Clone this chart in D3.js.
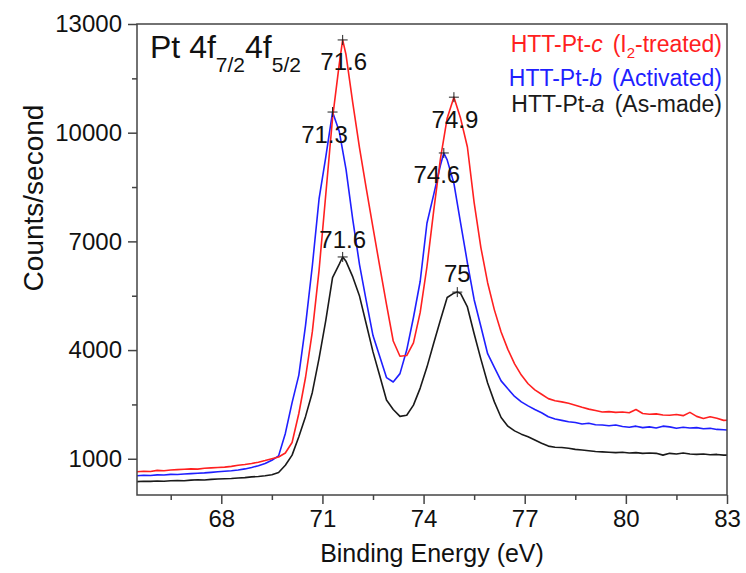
<!DOCTYPE html>
<html>
<head>
<meta charset="utf-8">
<script src="https://cdn.jsdelivr.net/npm/d3@7"></script>
<style>
  body { margin: 0; background: #fff; }
  svg { display: block; font-family: "Liberation Sans", Arial, sans-serif; }
</style>
</head>
<body>
<svg id="chart" width="746" height="573"></svg>
<script>
// binding energy grid (eV), 0.2 eV steps from 65.5
var energy = d3.range(89).map(function(i) { return +(65.5 + i * 0.2).toFixed(1); });

// counts/second
var countsC = [640, 655, 650, 680, 670, 690, 700, 710, 720, 715,
    740, 750, 760, 770, 790, 820, 840, 870, 905, 950,
    1000, 1050, 1160, 1450, 2250, 3250, 4500, 6200, 8300, 10400,
    11900, 12150, 10820, 9580, 8460, 7380, 6310, 5260, 4250, 3830,
    3850, 4200, 5040, 6300, 7840, 9280, 10400, 10980, 10390, 9605,
    8070, 6830, 5860, 5110, 4500, 4020, 3620, 3310, 3070, 2900,
    2780, 2660, 2600, 2570, 2530, 2480, 2420, 2370, 2330, 2290,
    2300, 2280, 2290, 2270, 2360, 2250, 2230, 2240, 2210, 2200,
    2220, 2190, 2280, 2170, 2110, 2160, 2120, 2060, 2070];

var countsB = [530, 545, 540, 555, 550, 570, 565, 580, 590, 600,
    610, 625, 640, 655, 670, 690, 720, 760, 810, 870,
    960, 1080, 1700, 2550, 3310, 4690, 6320, 8170, 9330, 10570,
    10030, 8990, 7600, 6360, 5360, 4400, 3820, 3240, 3120, 3350,
    4000, 4900, 5900, 7500, 8290, 9100, 9250, 8600, 7500, 6410,
    5390, 4650, 3900, 3520, 3150, 2930, 2720, 2570, 2460, 2360,
    2270, 2160, 2100, 2060, 2020, 2000, 1960, 1980, 1940, 1930,
    1910, 1930, 1890, 1870, 1900, 1860, 1880, 1850, 1900, 1880,
    1840, 1870, 1850, 1860, 1830, 1840, 1810, 1800, 1790];

var countsA = [370, 380, 375, 385, 380, 395, 400, 395, 410, 420,
    415, 430, 440, 450, 455, 470, 480, 500, 510, 530,
    560, 620, 820, 1100, 1610, 2170, 2830, 3770, 4820, 6000,
    6370, 6450, 6020, 5490, 4720, 3950, 3290, 2620, 2360, 2170,
    2200, 2480, 2950, 3530, 4190, 4830, 5450, 5570, 5560, 5190,
    4450, 3750, 3090, 2570, 2140, 1900, 1770, 1680, 1610, 1520,
    1430, 1350, 1320, 1310, 1290, 1260, 1240, 1220, 1200, 1190,
    1180, 1170, 1180, 1160, 1170, 1150, 1160, 1150, 1100, 1150,
    1130, 1160, 1130, 1120, 1130, 1110, 1120, 1100, 1100];

// marked peaks (energy, counts)
var peaksC = [[71.6, 12560], [74.9, 10980]];
var peaksB = [[71.3, 10570], [74.6, 9440]];
var peaksA = [[71.6, 6570], [75.0, 5600]];

var xTicks = [68, 71, 74, 77, 80, 83];
var xMinor = [66.5, 69.5, 72.5, 75.5, 78.5, 81.5];
var yTicks = [1000, 4000, 7000, 10000, 13000];
var yMinor = [2500, 5500, 8500, 11500];

var legendNames = ["HTT-Pt-", "HTT-Pt-", "HTT-Pt-"];
var legendLetters = ["c", "b", "a"];

(function() {
    'use strict';

    var mLeft = 137, mRight = 727, mTop = 24, mBottom = 495;

    var svg = d3.select("#chart");

    var x = d3.scaleLinear().domain([65.5, 83]).range([mLeft, mRight]);
    var y = d3.scaleLinear().domain([0, 13000]).range([mBottom, mTop]);

    svg.append("defs").append("clipPath").attr("id", "plot")
        .append("rect")
        .attr("x", mLeft).attr("y", mTop)
        .attr("width", mRight - mLeft).attr("height", mBottom - mTop);

    function merge(counts, peaks) {
        var pts = energy.map(function(e, i) { return [e, counts[i]]; });
        pts = pts.concat(peaks);
        pts.sort(function(a, b) { return a[0] - b[0]; });
        return pts;
    }

    var series = [
        {counts: countsA, peaks: peaksA, color: "#1a1a1a"},
        {counts: countsB, peaks: peaksB, color: "#1f1fff"},
        {counts: countsC, peaks: peaksC, color: "#ff2020"}
    ];

    var line = d3.line()
        .x(function(d) { return x(d[0]); })
        .y(function(d) { return y(d[1]); });

    var plot = svg.append("g").attr("clip-path", "url(#plot)");

    series.forEach(function(s) {
        plot.append("path")
            .datum(merge(s.counts, s.peaks))
            .attr("fill", "none")
            .attr("stroke", s.color)
            .attr("stroke-width", 1.6)
            .attr("stroke-linejoin", "round")
            .attr("d", line);
    });

    // frame
    svg.append("rect")
        .attr("x", mLeft).attr("y", mTop)
        .attr("width", mRight - mLeft).attr("height", mBottom - mTop)
        .attr("fill", "none")
        .attr("stroke", "#444")
        .attr("stroke-width", 1.5);

    // axes
    svg.append("g")
        .attr("transform", "translate(0," + mBottom + ")")
        .call(d3.axisBottom(x).tickValues(xTicks).tickSize(9).tickPadding(6));
    svg.append("g")
        .attr("transform", "translate(0," + mBottom + ")")
        .call(d3.axisBottom(x).tickValues(xMinor).tickSize(5).tickFormat(""));

    svg.append("g")
        .attr("transform", "translate(" + mLeft + ",0)")
        .call(d3.axisLeft(y).tickValues(yTicks).tickFormat(d3.format("d"))
            .tickSize(9).tickPadding(6));
    svg.append("g")
        .attr("transform", "translate(" + mLeft + ",0)")
        .call(d3.axisLeft(y).tickValues(yMinor).tickSize(5).tickFormat(""));

    svg.selectAll(".domain").remove();
    svg.selectAll(".tick line").attr("stroke", "#444").attr("stroke-width", 1.5);
    svg.selectAll(".tick text")
        .attr("font-family", "Liberation Sans, Arial, sans-serif")
        .attr("font-size", 24)
        .attr("fill", "#111");

    // axis titles
    svg.append("text")
        .attr("x", (mLeft + mRight) / 2).attr("y", 562)
        .attr("text-anchor", "middle")
        .attr("font-size", 25)
        .attr("fill", "#111")
        .text("Binding Energy (eV)");

    svg.append("text")
        .attr("transform", "translate(43,198) rotate(-90)")
        .attr("text-anchor", "middle")
        .attr("font-size", 28)
        .attr("fill", "#111")
        .text("Counts/second");

    // peak markers and labels: label offset from marker, per series / peak
    var labelOffsets = [
        [[0, -9], [0, -10]],
        [[-8, 31], [-7, 30]],
        [[1, 30], [1, 31]]
    ];

    series.forEach(function(s, si) {
        s.peaks.forEach(function(p, pi) {
            var px = x(p[0]), py = y(p[1]);
            svg.append("path")
                .attr("d", "M" + (px - 5) + "," + py + "h10M" + px + "," + (py - 5) + "v10")
                .attr("stroke", "#222")
                .attr("stroke-width", 1);
            var off = labelOffsets[si][pi];
            svg.append("text")
                .attr("x", px + off[0]).attr("y", py + off[1])
                .attr("text-anchor", "middle")
                .attr("font-size", 24)
                .attr("fill", "#111")
                .text(p[0] % 1 === 0 ? String(p[0]) : p[0].toFixed(1));
        });
    });

    // title
    var title = svg.append("text")
        .attr("x", 150).attr("y", 58)
        .attr("font-size", 32)
        .attr("fill", "#111");
    title.append("tspan").text("Pt 4f");
    title.append("tspan").attr("font-size", 21).attr("dy", 14).text("7/2");
    title.append("tspan").attr("dy", -14).text("4f");
    title.append("tspan").attr("font-size", 21).attr("dy", 14).text("5/2");

    // legend
    var legendColors = ["#ff2020", "#1f1fff", "#1a1a1a"];
    var legendY = [52, 86, 112];

    legendLetters.forEach(function(letter, i) {
        var t = svg.append("text")
            .attr("x", 722).attr("y", legendY[i])
            .attr("text-anchor", "end")
            .attr("font-size", 23)
            .attr("fill", legendColors[i]);
        t.append("tspan").text(legendNames[i]);
        t.append("tspan").attr("font-style", "italic").text(letter);
        if (i === 0) {
            t.append("tspan").attr("dx", 10).text("(I");
            t.append("tspan").attr("font-size", 15).attr("dy", 6).text("2");
            t.append("tspan").attr("dy", -6).text("-treated)");
        } else if (i === 1) {
            t.append("tspan").attr("dx", 10).text("(Activated)");
        } else {
            t.append("tspan").attr("dx", 10).text("(As-made)");
        }
    });
})();
</script>
</body>
</html>
